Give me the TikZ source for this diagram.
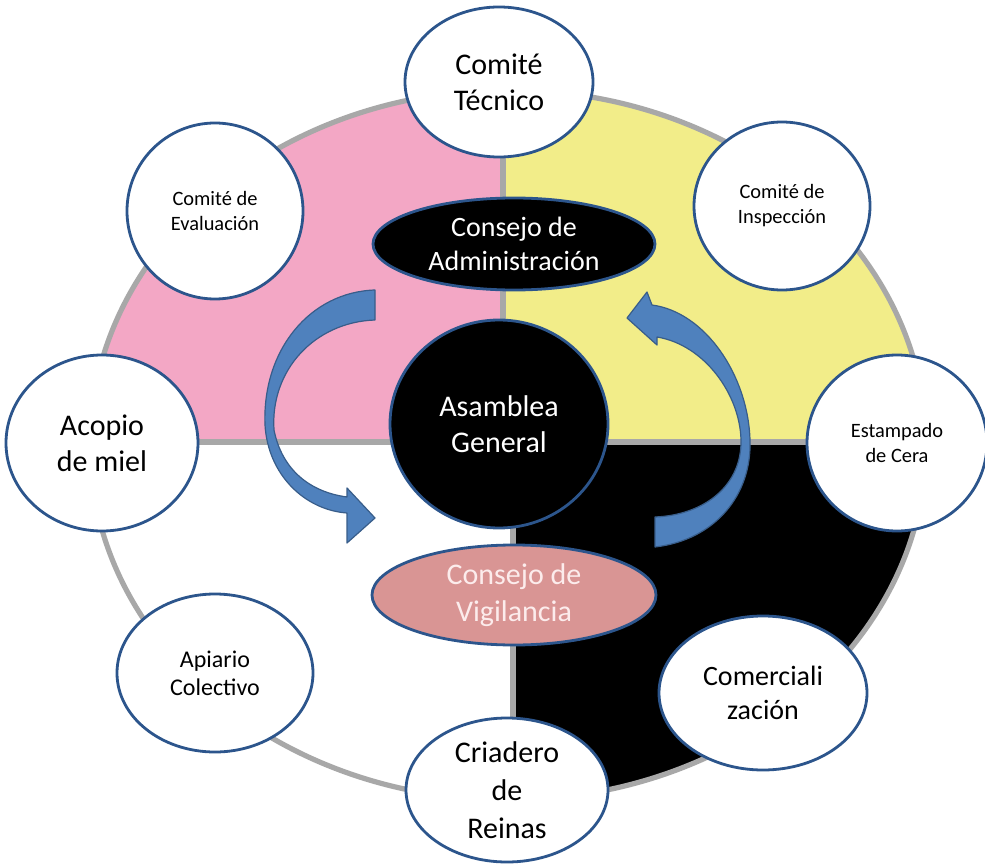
\documentclass[tikz,border=0pt]{standalone}
\usepackage{fontspec}
\setmainfont{Carlito}
\usetikzlibrary{shapes.geometric}
\definecolor{pinkq}{RGB}{243,167,197}
\definecolor{yellowq}{RGB}{242,237,137}
\definecolor{nodeblue}{RGB}{44,85,140}
\definecolor{arrowblue}{RGB}{79,129,189}
\definecolor{arrowedge}{RGB}{56,93,138}
\definecolor{vigil}{RGB}{217,149,148}
\definecolor{vigiltext}{RGB}{252,236,236}
\definecolor{bordergray}{RGB}{168,168,168}
\begin{document}
\begin{tikzpicture}[x=0.5pt,y=-0.5pt,
  unit/.style={ellipse, draw=nodeblue, line width=1.4pt, fill=white, inner sep=0pt, align=center, text=black},
  darkunit/.style={unit, fill=black, text=white},
  bigtxt/.style={font=\fontsize{15}{18}\selectfont},
  midtxt/.style={font=\fontsize{14}{17}\selectfont},
  smalltxt/.style={font=\fontsize{10.2}{12.5}\selectfont},
  border/.style={draw=bordergray, line width=2.6pt},
  blockarrow/.style={fill=arrowblue, draw=arrowedge, line width=0.6pt, line join=round}
  ]
\useasboundingbox (0,0) rectangle (985,866);
\fill[white] (0,0) rectangle (985,866);
% quadrants
\begin{scope}
\clip (508,445) ellipse [x radius=418, y radius=355];
\fill[pinkq] (0,0) rectangle (503,442);
\fill[yellowq] (503,0) rectangle (985,442);
\fill[black] (513,442) rectangle (985,866);
\end{scope}
\draw[border] (508,445) ellipse [x radius=418, y radius=355];
\draw[border] (90,442) -- (926,442);
\draw[border] (503,90) -- (503,442);
\draw[border] (513,442) -- (513,800);
% curved block arrows
\path[blockarrow] (375,290) .. controls (310,292) and (262,350) .. (265,425)
  .. controls (268,475) and (305,510) .. (347,513)
  -- (347,543) -- (375,518) -- (347,488) -- (347,497)
  .. controls (310,492) and (282,470) .. (274,430)
  .. controls (270,370) and (315,322) .. (375,320) -- cycle;
\path[blockarrow] (655,547) .. controls (715,540) and (752,495) .. (750,440)
  .. controls (748,375) and (705,312) .. (652,305)
  -- (647,292) -- (627,318) -- (657,345) -- (657,337)
  .. controls (705,345) and (740,395) .. (741,440)
  .. controls (742,485) and (705,515) .. (655,517) -- cycle;
% nodes
\node[unit, bigtxt, minimum width=94pt, minimum height=75pt] (tec) at (499,82) {Comité\\Técnico};
\node[unit, smalltxt, minimum width=88pt, minimum height=88pt] (eva) at (215,211) {Comité de\\Evaluación};
\node[unit, smalltxt, minimum width=88pt, minimum height=84pt] (ins) at (782,206) {Comité de\\Inspección};
\node[darkunit, midtxt, minimum width=141pt, minimum height=46pt] (adm) at (514,244) {Consejo de\\Administración};
\node[darkunit, bigtxt, minimum width=109pt, minimum height=104pt] (asa) at (499,424) {Asamblea\\General};
\node[unit, bigtxt, minimum width=96pt, minimum height=88pt] (aco) at (102,443) {Acopio\\de miel};
\node[unit, smalltxt, minimum width=90pt, minimum height=88pt] (est) at (897,443) {Estampado\\de Cera};
\node[unit, fill=vigil, text=vigiltext, font=\fontsize{15}{18.5}\selectfont, minimum width=142pt, minimum height=50pt] (vig) at (514,595) {Consejo de\\Vigilancia};
\node[unit, font=\fontsize{12}{14}\selectfont, minimum width=98pt, minimum height=79pt] (api) at (215,673) {Apiario\\Colectivo};
\node[unit, font=\fontsize{15}{19}\selectfont, minimum width=101pt, minimum height=72pt] (cri) at (507,790) {Criadero\\de\\Reinas};
\node[unit, midtxt, minimum width=104pt, minimum height=77pt] (com) at (763,693) {Comerciali\\zación};
\end{tikzpicture}
\end{document}
